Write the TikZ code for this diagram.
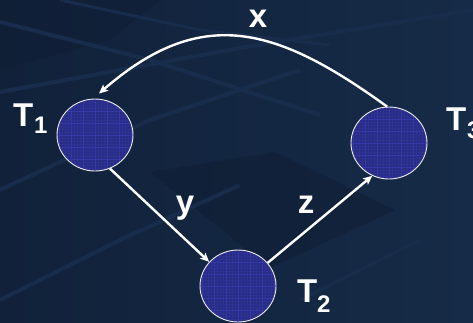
\documentclass[tikz,border=0pt]{standalone}
\usepackage{fontspec}
\setmainfont{Liberation Sans}
\usetikzlibrary{arrows.meta,shapes.geometric}
\definecolor{bgA}{HTML}{11213A}
\definecolor{bgB}{HTML}{162B47}
\definecolor{bgline}{HTML}{182D4B}
\definecolor{bgdark}{HTML}{0F1E34}
\definecolor{ballfill}{HTML}{282C84}
\definecolor{ballgrid}{HTML}{3539A8}
\tikzset{
  ball/.style={ellipse, draw=white!85!gray, line width=0.9pt, fill=ballfill,
    minimum width=76pt, minimum height=72pt, inner sep=0pt,
    path picture={
      \draw[ballgrid!40!ballfill, line width=0.3pt, step=3pt]
        (path picture bounding box.south west) grid (path picture bounding box.north east);
      \draw[ballgrid, line width=0.7pt, step=12pt]
        (path picture bounding box.south west) grid (path picture bounding box.north east);
    }},
  edge/.style={draw=white, line width=2.4pt, -{Stealth[length=9pt,width=8pt,inset=2pt]}},
  lab/.style={text=white, font=\bfseries\fontsize{33}{33}\selectfont, inner sep=0pt},
  sub/.style={text=white, font=\bfseries\fontsize{24}{24}\selectfont, inner sep=0pt},
}
\begin{document}
\begin{tikzpicture}[x=1pt,y=-1pt]
\useasboundingbox (0,0) rectangle (473,322);
% background
\shade[left color=bgA, right color=bgB] (0,0) rectangle (473,322);
\fill[bgdark, opacity=0.6] (150,172) -- (275,152) -- (395,210) -- (270,268) -- cycle;
\fill[bgdark, opacity=0.5] (0,0) -- (160,0) -- (110,40) -- (0,70) -- cycle;
\draw[bgline, line width=4pt] (0,92) -- (240,48) -- (473,10);
\draw[bgline, line width=4pt] (0,22) -- (150,60) -- (320,115);
\draw[bgline, line width=3pt] (60,0) -- (200,30) -- (330,45);
\draw[bgline, line width=4pt] (0,190) -- (150,120) -- (300,70);
\draw[bgline, line width=4pt] (0,300) -- (120,240) -- (240,185);
\draw[bgline, line width=3pt] (300,300) -- (420,240);
% nodes
\node[ball] (t1) at (95,135) {};
\node[ball] (t2) at (238,286) {};
\node[ball] (t3) at (389,143) {};
% labels
\node[lab, anchor=base west] (l1) at (13,126) {T};
\node[sub, anchor=base west] (s1) at (34,133) {1};
\node[lab, anchor=base west] (l2) at (297,302) {T};
\node[sub, anchor=base west] (s2) at (317,312) {2};
\node[lab, anchor=base west] (l3) at (446,130) {T};
\node[sub, anchor=base west] (s3) at (467,138) {3};
\node[lab, anchor=base] (lx) at (258,27) {x};
\node[lab, anchor=base] (ly) at (185,213) {y};
\node[lab, anchor=base] (lz) at (306,213) {z};
% connectors
\draw[edge] (t3.93) .. controls (277,27) and (202,4) .. ([shift={(4,-5)}]t1.north);
\draw[edge] (t1.-66) -- (t2.140);
\draw[edge] (t2.38) -- (t3.243);
\end{tikzpicture}
\end{document}
